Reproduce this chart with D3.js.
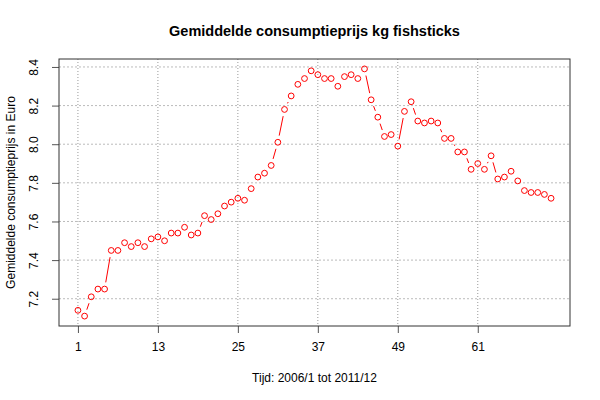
<!DOCTYPE html>
<html><head><meta charset="utf-8">
<script src="https://cdn.jsdelivr.net/npm/d3@7"></script>
<style>body{margin:0;background:#fff}svg{display:block}text{font-family:"Liberation Sans",Arial,sans-serif}</style>
</head><body><svg id="c" width="600" height="400"></svg>
<script>
const values = [7.14,7.11,7.21,7.25,7.25,7.45,7.45,7.49,7.47,7.49,7.47,7.51,
7.52,7.50,7.54,7.54,7.57,7.53,7.54,7.63,7.61,7.64,7.68,7.70,
7.72,7.71,7.77,7.83,7.85,7.89,8.01,8.18,8.25,8.31,8.34,8.38,
8.36,8.34,8.34,8.30,8.35,8.36,8.34,8.39,8.23,8.14,8.04,8.05,
7.99,8.17,8.22,8.12,8.11,8.12,8.11,8.03,8.03,7.96,7.96,7.87,
7.90,7.87,7.94,7.82,7.83,7.86,7.81,7.76,7.75,7.75,7.74,7.72];
const xTicks = [1,13,25,37,49,61];
const yTicks = [7.2,7.4,7.6,7.8,8.0,8.2,8.4];
const title = "Gemiddelde consumptieprijs kg fishsticks";
const xLabel = "Tijd: 2006/1 tot 2011/12";
const yLabel = "Gemiddelde consumptieprijs in Euro";

const svg = d3.select("#c");
const L=59,R=570,T=59,B=326;
const n = values.length;
const xe = (n-1)*0.04;
const x = d3.scaleLinear().domain([1-xe, n+xe]).range([L,R]);
const ymin=d3.min(values), ymax=d3.max(values), ye=(ymax-ymin)*0.04;
const y = d3.scaleLinear().domain([ymin-ye, ymax+ye]).range([B,T]);

// grid
const g = svg.append("g");
g.selectAll(".gx").data(xTicks).join("line")
 .attr("x1",d=>x(d)).attr("x2",d=>x(d)).attr("y1",T).attr("y2",B)
 .attr("stroke","#999").attr("stroke-dasharray","1,2").attr("stroke-width",1);
g.selectAll(".gy").data(yTicks).join("line")
 .attr("x1",L).attr("x2",R).attr("y1",d=>y(d)).attr("y2",d=>y(d))
 .attr("stroke","#bbb").attr("stroke-dasharray","2,2").attr("stroke-width",1);

// axes
const xa = svg.append("g").attr("transform",`translate(0,${B})`)
 .call(d3.axisBottom(x).tickValues(xTicks).tickSize(7).tickPadding(9).tickFormat(d3.format("d")));
xa.select(".domain").remove();
xa.selectAll("line").attr("stroke","#555");
xa.selectAll("text").attr("font-size",12).attr("fill","#000");
const ya = svg.append("g").attr("transform",`translate(${L},0)`)
 .call(d3.axisLeft(y).tickValues(yTicks).tickSize(7).tickFormat(d3.format(".1f")));
ya.select(".domain").remove();
ya.selectAll("line").attr("stroke","#555");
ya.selectAll("text").attr("font-size",12).attr("fill","#000")
 .attr("text-anchor","middle").attr("dy",null).attr("x",null)
 .attr("transform","translate(-21,0) rotate(-90)");

// box
svg.append("rect").attr("x",L).attr("y",T).attr("width",R-L).attr("height",B-T)
 .attr("fill","none").attr("stroke","#333").attr("stroke-width",1);

// line segments with gaps (type "b")
const pts = values.map((v,i)=>[x(i+1),y(v)]);
const gap = 6.8;
const segs=[];
for(let i=0;i<n-1;i++){
 const [x1,y1]=pts[i],[x2,y2]=pts[i+1];
 const dx=x2-x1,dy=y2-y1,len=Math.hypot(dx,dy);
 if(len>2*gap){const ux=dx/len,uy=dy/len;
  segs.push([x1+ux*gap,y1+uy*gap,x2-ux*gap,y2-uy*gap]);}
}
svg.append("g").selectAll("line").data(segs).join("line")
 .attr("x1",d=>d[0]).attr("y1",d=>d[1]).attr("x2",d=>d[2]).attr("y2",d=>d[3])
 .attr("stroke","#ff0000").attr("stroke-width",1);
svg.append("g").selectAll("circle").data(values).join("circle")
 .attr("cx",(d,i)=>x(i+1)).attr("cy",d=>y(d)).attr("r",2.9)
 .attr("fill","none").attr("stroke","#ff0000").attr("stroke-width",1);

// text
svg.append("text").attr("x",(L+R)/2).attr("y",36).attr("text-anchor","middle")
 .attr("font-size",14.5).attr("font-weight","bold").text(title);
svg.append("text").attr("x",(L+R)/2).attr("y",382).attr("text-anchor","middle")
 .attr("font-size",12).text(xLabel);
svg.append("text").attr("transform",`translate(15,${(T+B)/2}) rotate(-90)`)
 .attr("text-anchor","middle").attr("font-size",12).text(yLabel);
</script></body></html>
